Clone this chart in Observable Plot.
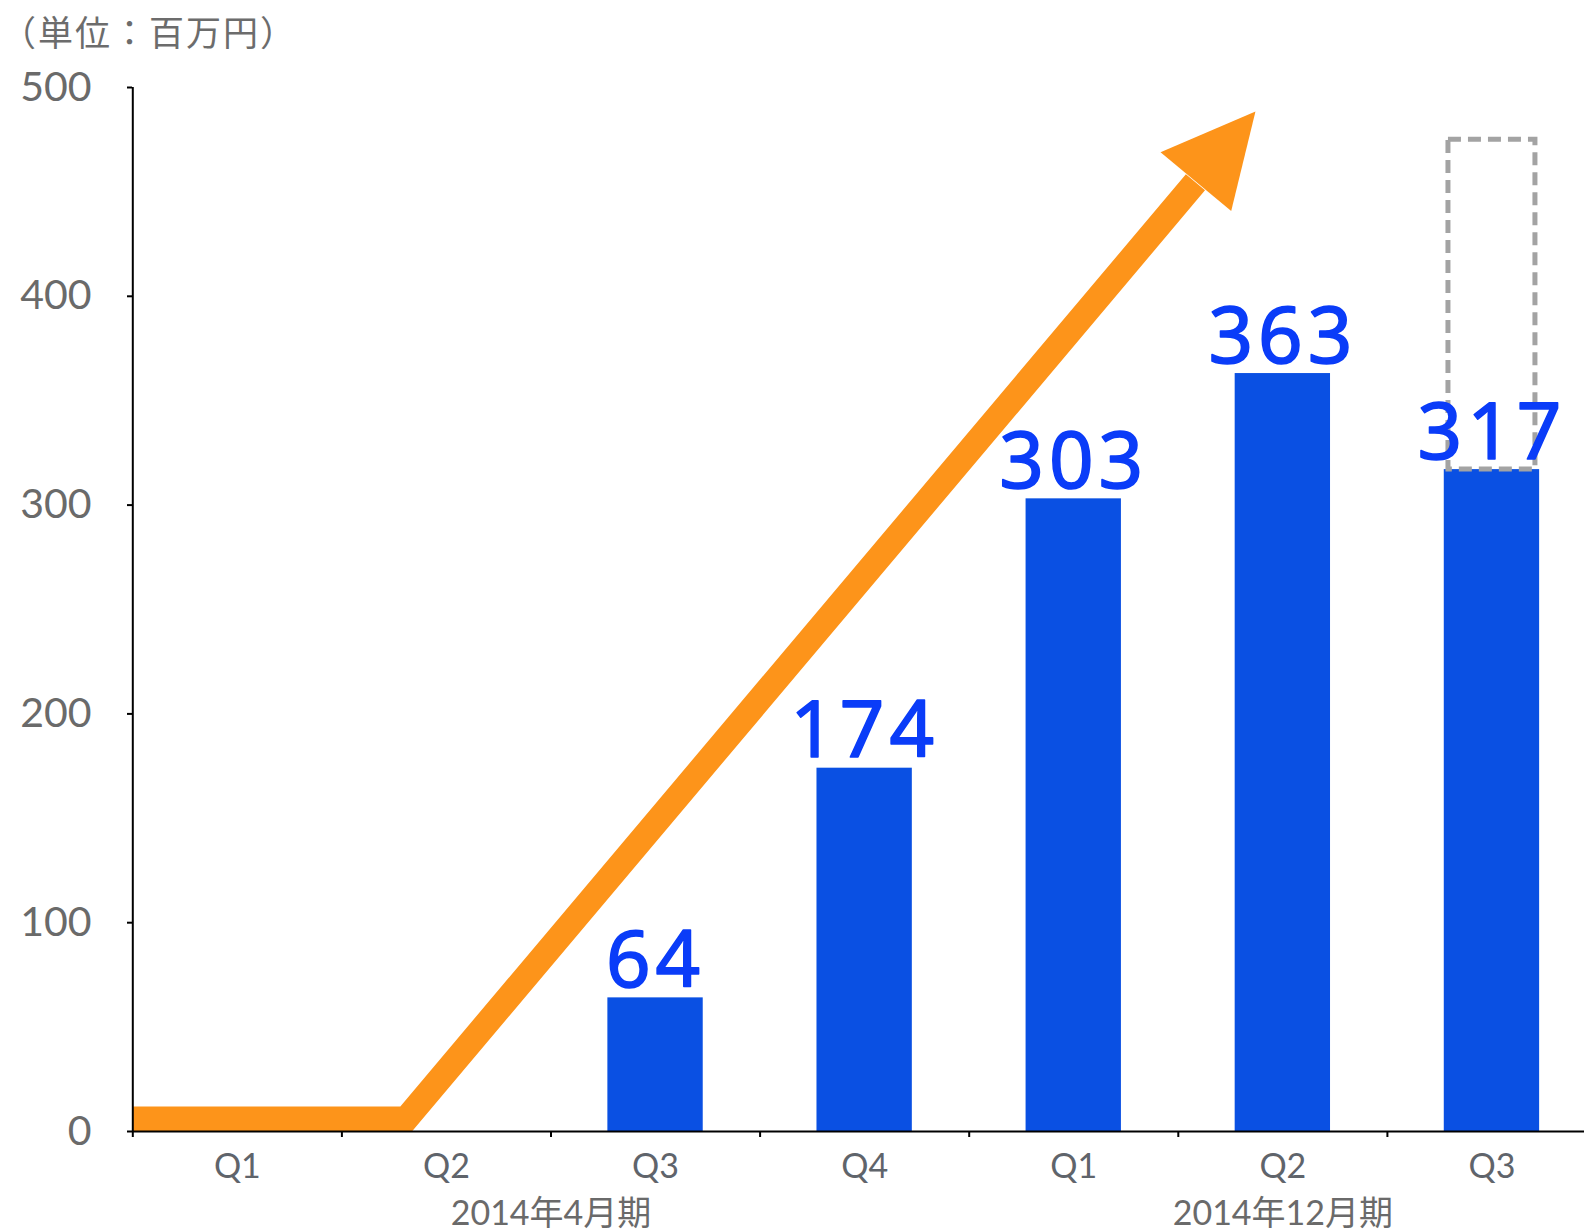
<!DOCTYPE html>
<html>
<head>
<meta charset="utf-8">
<script src="https://cdn.jsdelivr.net/npm/d3@7"></script>
<script src="https://cdn.jsdelivr.net/npm/@observablehq/plot@0.6"></script>
<style>
  html, body { margin: 0; padding: 0; background: #fff; overflow: hidden; }
  #wrap { position: relative; width: 1584px; height: 1231px; }
  #unit { position: absolute; left: 1px; top: 13px; font-family: "Noto Sans CJK JP", sans-serif; font-size: 35px; letter-spacing: 2px; color: #6c6c6c; line-height: 1; }
  svg { overflow: hidden; }
  g.values text { letter-spacing: 5px; }
</style>
</head>
<body>
<div id="wrap">
  <div id="unit">（単位：百万円）</div>
</div>
<script>
// ---- data ----
const quarters = ["Q1", "Q2", "Q3", "Q4", "Q1", "Q2", "Q3"];
const sales = [null, null, 64, 174, 303, 363, 317];
const forecastTop = [null, null, null, null, null, null, 475];
const fiscalYears = ["2014年4月期", "2014年12月期"];
const fiscalStart = [0, 4];
const fiscalEnd = [4, 7];
const yTicks = [0, 100, 200, 300, 400, 500];
// trend arrow (read in chart units)
const trendX = [0, 1.307, 5.082];
const trendY = [6, 6, 454.6];
const headX = [5.369, 4.915, 5.253];
const headY = [488.5, 469.0, 440.8];

// ---- tables ----
const bars = quarters.map((q, i) => ({i, q, v: sales[i]})).filter(d => d.v != null);
const forecast = quarters.map((q, i) => ({i, lo: sales[i], hi: forecastTop[i]})).filter(d => d.hi != null);
const groups = fiscalYears.map((t, k) => ({t, c: (fiscalStart[k] + fiscalEnd[k]) / 2}));
const trend = trendX.map((x, k) => ({x, y: trendY[k]}));
const head = headX.map((x, k) => ({x, y: headY[k]}));

const ORANGE = "#fd941a";
const BAR = "#0a50e3";
const LABEL = "#0a3cf8";
const GRAY = "#6a6a6a";
const QGRAY = "#5f646b";
const LIGHT = "'Lato', 'Noto Sans CJK JP', sans-serif";
const half = 0.228;

const chart = Plot.plot({
  width: 1584,
  height: 1231,
  marginLeft: 132,
  marginRight: 0,
  marginTop: 87,
  marginBottom: 100,
  style: {background: "transparent", overflow: "hidden"},
  x: {type: "linear", domain: [0, 7], range: [132.3, 132.3 + 7 * 209.1], axis: null},
  y: {domain: [0, 500], range: [1131, 87], axis: null},
  marks: [
    Plot.line(trend, {x: "x", y: "y", stroke: ORANGE, strokeWidth: 25, strokeLinejoin: "miter", strokeLinecap: "butt", strokeMiterlimit: 10}),
    Plot.line(head, {x: "x", y: "y", fill: ORANGE, stroke: "none"}),
    Plot.rectY(bars, {x1: d => d.i + 0.5 - half, x2: d => d.i + 0.5 + half, y: "v", fill: BAR, ariaLabel: "bars"}),
    Plot.rect(forecast, {x1: d => d.i + 0.5 - half + 0.02, x2: d => d.i + 0.5 + half - 0.02, y1: "lo", y2: "hi", fill: "none", stroke: "#a3a3a3", strokeWidth: 5, strokeDasharray: "13,7", ariaLabel: "forecast"}),
    Plot.text(bars, {x: d => d.i + 0.5, y: "v", text: d => String(d.v), lineAnchor: "bottom", dy: -11, fill: LABEL, stroke: LABEL, strokeWidth: 1.6, fontSize: 78, fontFamily: "'Noto Sans', 'Liberation Sans', sans-serif", className: "values"}),
    Plot.ruleX([0], {y1: 0, y2: 500, stroke: "#000", strokeWidth: 2}),
    Plot.ruleY([0], {stroke: "#000", strokeWidth: 2}),
    Plot.axisY(yTicks, {tickSize: 5, tickPadding: 36, fontSize: 41, fill: GRAY, stroke: "#000", strokeWidth: 2, fontFamily: LIGHT, tickFormat: d => String(d)}),
    Plot.axisX(d3.range(0, 8), {tickSize: 6, tickFormat: () => "", stroke: "#000", strokeWidth: 2}),
    Plot.axisX(quarters.map((q, i) => i + 0.5), {tickSize: 0, tickPadding: 22, fontSize: 34, fill: QGRAY, fontFamily: LIGHT, tickFormat: v => quarters[Math.floor(v)]}),
    Plot.text(groups, {x: "c", frameAnchor: "bottom", text: "t", lineAnchor: "top", dy: 69, fontSize: 34, fill: GRAY, fontFamily: LIGHT})
  ]
});

d3.select(chart).select('g[aria-label="bars"]').style("filter", "drop-shadow(3px 2px 3px rgba(0,0,0,0.35))");
d3.select(chart).select('g[aria-label="forecast"]').style("filter", "drop-shadow(2px 2px 2px rgba(0,0,0,0.25))");
d3.select(chart).selectAll('g.values text').attr("letter-spacing", "5px").style("letter-spacing", "5px");
document.getElementById("wrap").appendChild(chart);
chart.style.position = "absolute";
chart.style.left = "0";
chart.style.top = "0";
</script>
</body>
</html>
